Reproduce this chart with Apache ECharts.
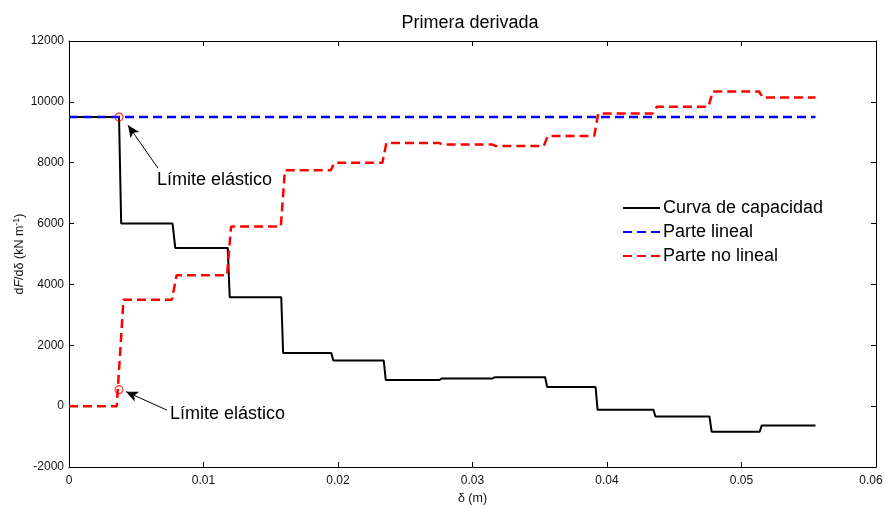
<!DOCTYPE html>
<html>
<head>
<meta charset="utf-8">
<script src="https://cdn.jsdelivr.net/npm/echarts@6/dist/echarts.min.js"></script>
<style>
  html, body { margin: 0; padding: 0; background: #fff; }
  #chart { width: 885px; height: 508px; }
</style>
</head>
<body>
<div id="chart"></div>
<script>
// Capacity curve (first derivative of force vs displacement)
const capX = [0, 0.00372, 0.00388, 0.00770, 0.00790, 0.01180, 0.01195, 0.01578, 0.01592, 0.01950, 0.01965, 0.02340, 0.02355, 0.02755, 0.02770, 0.03150, 0.03165, 0.03540, 0.03555, 0.03915, 0.03930, 0.04345, 0.04360, 0.04762, 0.04778, 0.05135, 0.05150, 0.05550];
const capY = [9500, 9500, 6000, 6000, 5200, 5200, 3580, 3580, 1750, 1750, 1500, 1500, 860, 860, 910, 910, 950, 950, 630, 630, -120, -120, -340, -340, -840, -840, -640, -640];

// Linear part (constant initial stiffness)
const linX = [0, 0.0555];
const linY = [9500, 9500];

// Non-linear part
const nlX = [0, 0.00355, 0.00405, 0.00765, 0.00800, 0.01175, 0.01205, 0.01575, 0.01605, 0.01945, 0.01975, 0.02330, 0.02360, 0.02750, 0.02775, 0.03145, 0.03170, 0.03530, 0.03560, 0.03905, 0.03935, 0.04340, 0.04370, 0.04755, 0.04785, 0.05130, 0.05160, 0.05550];
const nlY = [0, 0, 3500, 3500, 4300, 4300, 5900, 5900, 7750, 7750, 8000, 8000, 8650, 8650, 8600, 8600, 8550, 8550, 8880, 8880, 9620, 9620, 9840, 9840, 10340, 10340, 10140, 10140];

// Elastic limit markers
const limX = [0.00372, 0.00372];
const limY = [9500, 540];

// Annotation arrows: tail point -> tip point, and label anchor
const arrowTail = [[0.00662, 7820], [0.00728, -130]];
const arrowTip = [[0.00439, 9230], [0.00424, 475]];
const noteAt = [[0.00654, 7430], [0.00751, -270]];
const noteText = 'Límite elástico';

// Axis ticks
const xTicks = [0, 0.01, 0.02, 0.03, 0.04, 0.05, 0.06];
const xTickLabels = ['0', '0.01', '0.02', '0.03', '0.04', '0.05', '0.06'];
const yTicks = [-2000, 0, 2000, 4000, 6000, 8000, 10000, 12000];
const yTickLabels = ['-2000', '0', '2000', '4000', '6000', '8000', '10000', '12000'];

const seriesNames = ['Curva de capacidad', 'Parte lineal', 'Parte no lineal'];

const font = 'Liberation Sans, Arial, Helvetica, sans-serif';
const zip = (a, b) => a.map((v, i) => [v, b[i]]);
const xStep = xTicks[1] - xTicks[0];
const yStep = yTicks[1] - yTicks[0];
// the last x label sits at the right edge, so it is nudged inwards a little
const xLabel = v => {
  const i = Math.round((v - xTicks[0]) / xStep);
  const s = xTickLabels[i] ?? '';
  return i === xTickLabels.length - 1 ? '{edge|' + s + '}' : s;
};
const yLabel = v => yTickLabels[Math.round((v - yTicks[0]) / yStep)] ?? '';

const baseX = {
  type: 'value',
  min: xTicks[0], max: xTicks[xTicks.length - 1], interval: xStep,
  axisLine: { show: true, onZero: false, lineStyle: { color: '#000', width: 1 } },
  axisTick: { show: true, inside: true, length: 5, lineStyle: { color: '#000' } },
  splitLine: { show: false }
};
const baseY = {
  type: 'value',
  min: yTicks[0], max: yTicks[yTicks.length - 1], interval: yStep,
  axisLine: { show: true, onZero: false, lineStyle: { color: '#000', width: 1 } },
  axisTick: { show: true, inside: true, length: 5, lineStyle: { color: '#000' } },
  splitLine: { show: false }
};

const chart = echarts.init(document.getElementById('chart'), null, { renderer: 'canvas' });

chart.setOption({
  animation: false,
  backgroundColor: '#fff',
  textStyle: { fontFamily: font },
  title: {
    text: 'Primera derivada',
    left: 465, top: 9,
    textAlign: 'center',
    textStyle: { fontFamily: font, fontSize: 18, fontWeight: 'normal', color: '#000' }
  },
  grid: { left: 69, right: 9, top: 41, bottom: 41, containLabel: false, outerBoundsMode: 'none' },
  legend: {
    data: seriesNames,
    orient: 'vertical',
    left: 622, top: 199, padding: 0,
    itemWidth: 37, itemHeight: 14, itemGap: 6,
    itemStyle: { opacity: 0, color: 'rgba(0,0,0,0)', borderWidth: 0 },
    textStyle: { fontFamily: font, fontSize: 18, color: '#000', padding: [0, 0, 0, -2] },
    inactiveColor: '#ccc'
  },
  xAxis: [
    Object.assign({}, baseX, {
      position: 'bottom',
      name: 'δ (m)', nameLocation: 'middle', nameGap: 25, nameMoveOverlap: false,
      nameTextStyle: { fontFamily: font, fontSize: 12.5, color: '#111' },
      axisLabel: {
        show: true, margin: 8, fontSize: 12, color: '#111', fontFamily: font, formatter: xLabel,
        rich: { edge: { fontFamily: font, fontSize: 12, color: '#111', padding: [0, 10, 0, 0] } }
      }
    }),
    Object.assign({}, baseX, { position: 'top', axisLabel: { show: false } })
  ],
  yAxis: [
    Object.assign({}, baseY, {
      position: 'left',
      name: '{n|d}{i|F}{n|/dδ (kN m}{s|-1}{n|)}',
      nameLocation: 'middle', nameGap: 42, nameRotate: 90, nameMoveOverlap: false,
      nameTextStyle: {
        fontFamily: font, fontSize: 12.5, color: '#111',
        rich: {
          n: { fontFamily: font, fontSize: 12.5, color: '#111', lineHeight: 15 },
          i: { fontFamily: font, fontSize: 12.5, color: '#111', fontStyle: 'italic', lineHeight: 15 },
          s: { fontFamily: font, fontSize: 9, color: '#111', verticalAlign: 'top', lineHeight: 15, padding: [0, 0, 7, 0] }
        }
      },
      axisLabel: { show: true, margin: 5, fontSize: 12, color: '#111', fontFamily: font, formatter: yLabel }
    }),
    Object.assign({}, baseY, { position: 'right', axisLabel: { show: false } })
  ],
  series: [
    {
      name: seriesNames[0], type: 'line', data: zip(capX, capY),
      symbol: 'none', showSymbol: false, z: 2,
      lineStyle: { color: '#000', width: 2 }, itemStyle: { color: '#000' }
    },
    {
      name: seriesNames[1], type: 'line', data: zip(linX, linY),
      symbol: 'none', showSymbol: false, z: 3,
      lineStyle: { color: '#0000ff', width: 2.5, type: [9, 5] }, itemStyle: { color: '#0000ff' }
    },
    {
      name: seriesNames[2], type: 'line', data: zip(nlX, nlY),
      symbol: 'none', showSymbol: false, z: 4,
      lineStyle: { color: '#ff0000', width: 2.5, type: [9, 5] }, itemStyle: { color: '#ff0000' }
    },
    {
      name: 'Límite elástico', type: 'scatter', data: zip(limX, limY),
      symbol: 'circle', symbolSize: 8, z: 6,
      itemStyle: { color: 'rgba(255,255,255,0)', borderColor: '#ff0000', borderWidth: 1.2 },
      markLine: {
        silent: true, animation: false,
        symbol: ['none', 'arrow'], symbolSize: [8, 12],
        lineStyle: { color: '#000', width: 1, type: 'solid' },
        label: { show: false },
        data: arrowTail.map((t, i) => [{ coord: t }, { coord: arrowTip[i] }])
      },
      markPoint: {
        silent: true, animation: false,
        symbol: 'circle', symbolSize: 0,
        label: {
          show: true, position: 'right', distance: 0,
          formatter: noteText,
          fontFamily: font, fontSize: 18, color: '#000'
        },
        data: noteAt.map(c => ({ coord: c }))
      }
    }
  ]
});
</script>
</body>
</html>
